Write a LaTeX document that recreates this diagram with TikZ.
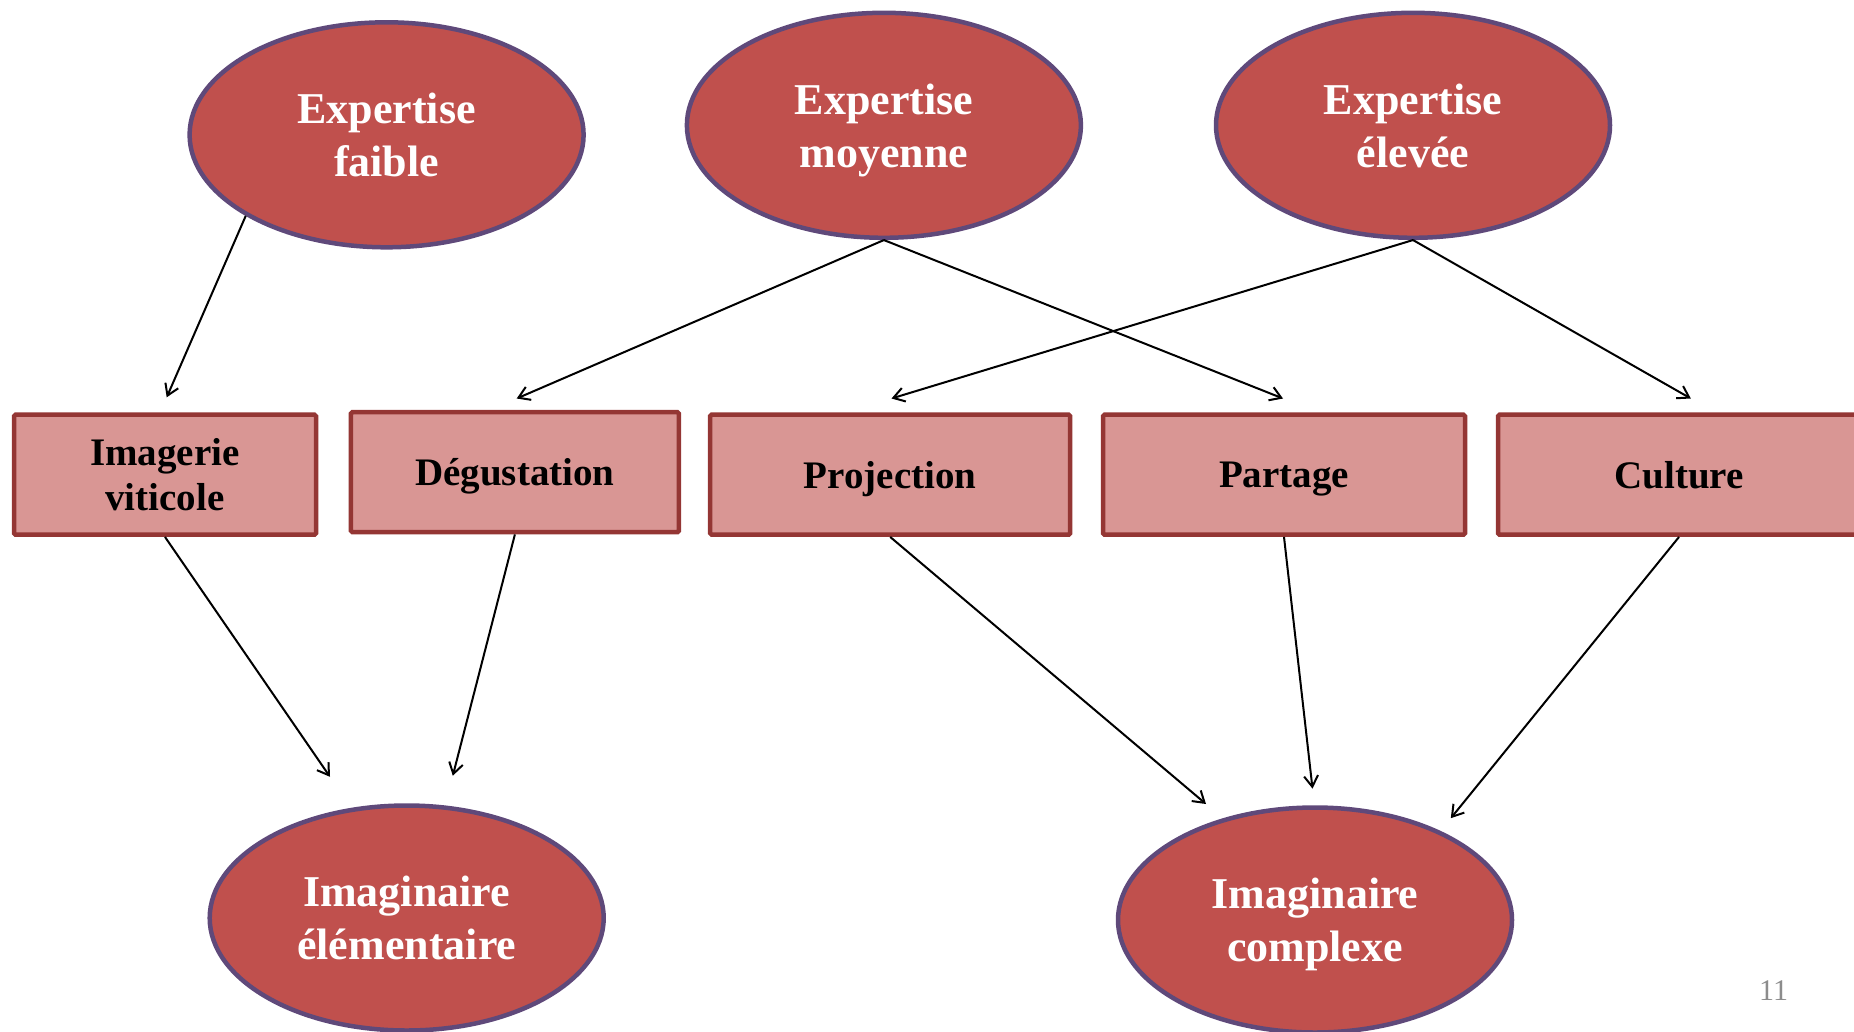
\documentclass[tikz,border=0pt]{standalone}
\usepackage{fontspec}
\setmainfont{Liberation Serif}
\usetikzlibrary{shapes.geometric,arrows.meta}
\definecolor{ellfill}{HTML}{C0504D}
\definecolor{elldraw}{HTML}{5F497A}
\definecolor{boxfill}{HTML}{D99694}
\definecolor{boxdraw}{HTML}{943634}
\definecolor{pagegray}{HTML}{8C8C8C}
\tikzset{
  ell/.style={ellipse, fill=ellfill, draw=elldraw, line width=4.5pt, minimum width=394pt, minimum height=225pt, inner sep=0pt, align=center, text=white, text depth=0pt, font=\fontsize{44}{53}\selectfont\bfseries},
  boxnode/.style={rectangle, fill=boxfill, draw=boxdraw, line width=4.5pt, minimum height=120pt, inner sep=0pt, align=center, text=black, text depth=0pt, font=\fontsize{39}{45}\selectfont\bfseries, rounded corners=1.5pt},
  arr/.style={-{Straight Barb[length=11pt,width=14pt,line width=2pt]}, line width=2pt, black}
}
\begin{document}
\begin{tikzpicture}[x=1pt,y=-1pt]
\useasboundingbox (0,0) rectangle (1854,1031);
\clip (0,0) rectangle (1854,1031);
% ellipses
\node[ell] (ef) at (386.6,134.8) {Expertise\\faible};
\node[ell] (em) at (883.9,125.3) {Expertise\\moyenne};
\node[ell] (ee) at (1413,125.3) {Expertise\\élevée};
\node[ell] (ie) at (406.7,918) {Imaginaire\\élémentaire};
\node[ell] (ic) at (1315,920) {Imaginaire\\complexe};
% boxes
\node[boxnode, minimum width=302pt] (iv) at (165,474.7) {Imagerie\\viticole};
\node[boxnode, minimum width=328pt] (dg) at (514.9,472.2) {Dégustation};
\node[boxnode, minimum width=360pt] (pr) at (890.2,474.7) {Projection};
\node[boxnode, minimum width=362pt] (pa) at (1284,474.7) {Partage};
\node[boxnode, minimum width=362pt] (cu) at (1679,474.7) {Culture};
% page number
\node[text=pagegray, font=\fontsize{30}{36}\selectfont, inner sep=0pt] (pn) at (1773.6,991) {11};
% arrow tips
\coordinate (t1) at (166.7,397.3);
\coordinate (t2) at (516.7,398.5);
\coordinate (t3) at (1283,398.5);
\coordinate (t4) at (891.5,398.5);
\coordinate (t5) at (1690.8,398.5);
\coordinate (t6) at (330,776.8);
\coordinate (t7) at (452.8,775.7);
\coordinate (t8) at (1206,804);
\coordinate (t9) at (1312.5,788.6);
\coordinate (t10) at (1450.8,818.2);
% connectors
\draw[arr] (ef.south west) -- (t1);
\draw[arr] (em.south) -- (t2);
\draw[arr] (em.south) -- (t3);
\draw[arr] (ee.south) -- (t4);
\draw[arr] (ee.south) -- (t5);
\draw[arr] (iv.south) -- (t6);
\draw[arr] (dg.south) -- (t7);
\draw[arr] (pr.south) -- (t8);
\draw[arr] (pa.south) -- (t9);
\draw[arr] (cu.south) -- (t10);
\end{tikzpicture}
\end{document}
